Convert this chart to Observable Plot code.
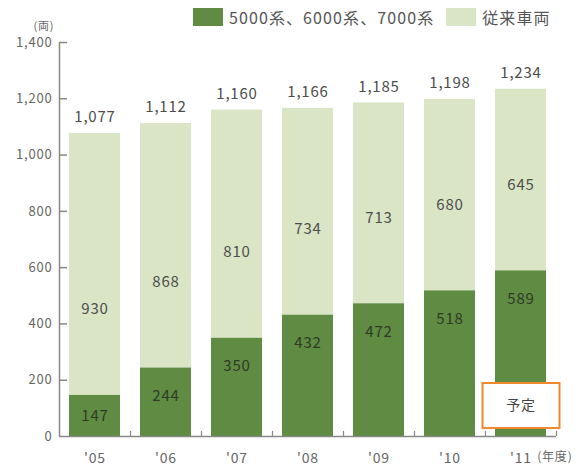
<!DOCTYPE html>
<html>
<head>
<meta charset="utf-8">
<script src="https://cdn.jsdelivr.net/npm/d3@7"></script>
<script src="https://cdn.jsdelivr.net/npm/@observablehq/plot@0.6"></script>
<style>
  body { margin: 0; background: #fff; }
  #chart { position: relative; width: 584px; height: 472px; font-family: "Noto Sans CJK JP", sans-serif; }
  #legend { position: absolute; top: 5px; left: 193px; display: flex; align-items: center; font-size: 16px; color: #555; letter-spacing: 1.1px; }
  #legend .sw { width: 30px; height: 18px; margin-right: 6px; }
  #legend .item { display: flex; align-items: center; margin-right: 12px; }
</style>
</head>
<body>
<div id="chart"><div id="legend"></div></div>
<script>
// Fiscal years and vehicle counts (両)
const years = ["'05", "'06", "'07", "'08", "'09", "'10", "'11"];
const newSeries = [147, 244, 350, 432, 472, 518, 589];   // 5000系、6000系、7000系
const oldSeries = [930, 868, 810, 734, 713, 680, 645];   // 従来車両
const totals = [1077, 1112, 1160, 1166, 1185, 1198, 1234];
const seriesNames = ["5000系、6000系、7000系", "従来車両"];
const seriesColors = ["#5f8b42", "#d9e5c5"];
const yTicks = [0, 200, 400, 600, 800, 1000, 1200, 1400];
const notes = [{year: "'11", text: "予定"}];

const rows = years.flatMap((year, i) => [
  {year, series: seriesNames[0], value: newSeries[i]},
  {year, series: seriesNames[1], value: oldSeries[i]}
]);

// label anchors inside each segment
const newLabels = years.map((year, i) => ({year, value: newSeries[i], pos: Math.max(newSeries[i] / 2, newSeries[i] - 100)}));
const oldLabels = years.map((year, i) => ({year, value: oldSeries[i], pos: newSeries[i] + 305}));
const totalLabels = years.map((year, i) => ({year, value: totals[i]}));

const width = 584, height = 472;
const margin = {top: 42, right: 28, bottom: 36, left: 59};
const plotW = width - margin.left - margin.right;
const step = plotW / years.length;
const fmt = d3.format(",");

// legend
const legend = document.getElementById("legend");
seriesNames.forEach((name, i) => {
  const item = document.createElement("div");
  item.className = "item";
  const sw = document.createElement("div");
  sw.className = "sw";
  sw.style.background = seriesColors[i];
  const label = document.createElement("span");
  label.textContent = name;
  item.append(sw, label);
  legend.append(item);
});

// rectangular box symbol for the note
const boxSymbol = {draw(context) { context.rect(-38.5, -22.5, 77, 45); }};

const chart = Plot.plot({
  width, height,
  marginTop: margin.top, marginRight: margin.right, marginBottom: margin.bottom, marginLeft: margin.left,
  style: {fontFamily: "'Noto Sans CJK JP', sans-serif", background: "transparent"},
  x: {domain: years, paddingInner: 0.28, paddingOuter: 0.14, label: null},
  y: {domain: [0, 1400], label: null},
  color: {domain: seriesNames, range: seriesColors},
  marks: [
    Plot.barY(rows, {x: "year", y: "value", fill: "series", order: seriesNames}),
    // axes
    Plot.axisY({ticks: yTicks, tickSize: 0, tickPadding: 7, tickFormat: fmt, fontSize: 13, fill: "#666", label: null}),
    Plot.axisX({tickSize: 0, tickPadding: 17, fontSize: 14, fill: "#666", label: null}),
    Plot.ruleX([years[0]], {x: d => d, dx: -step / 2, y1: 0, y2: 1400, stroke: "#888", strokeWidth: 1.5}),
    Plot.ruleY([0], {stroke: "#888", strokeWidth: 1.5}),
    Plot.ruleY(yTicks.filter(d => d > 0), {y: d => d, insetRight: plotW - 8, stroke: "#888", strokeWidth: 1.5}),
    Plot.ruleX(years, {x: d => d, dx: step / 2, y1: 0, y2: 18, stroke: "#888", strokeWidth: 1.2}),
    // value labels
    Plot.text(newLabels, {x: "year", y: "pos", text: d => fmt(d.value), fill: "#2e3a26", fontSize: 15}),
    Plot.text(oldLabels, {x: "year", y: "pos", text: d => fmt(d.value), fill: "#4d4d4d", fontSize: 15}),
    Plot.text(totalLabels, {x: "year", y: "value", text: d => fmt(d.value), dy: -16, fill: "#4d4d4d", fontSize: 15}),
    // note box
    Plot.dot(notes, {x: "year", y: 0, dy: -31, symbol: boxSymbol, r: 10, fill: "#fff", stroke: "#f0892e", strokeWidth: 2}),
    Plot.text(notes, {x: "year", y: 0, dy: -31, text: "text", fill: "#444", fontSize: 14}),
    // unit labels
    Plot.text(["(両)"], {frameAnchor: "top-left", dx: -26, dy: -20, text: d => d, fill: "#666", fontSize: 11}),
    Plot.text(["(年度)"], {frameAnchor: "bottom-right", dx: 16, dy: 24, text: d => d, fill: "#666", fontSize: 12})
  ]
});
chart.style.letterSpacing = "0.8px";
document.getElementById("chart").prepend(chart);
</script>
</body>
</html>
